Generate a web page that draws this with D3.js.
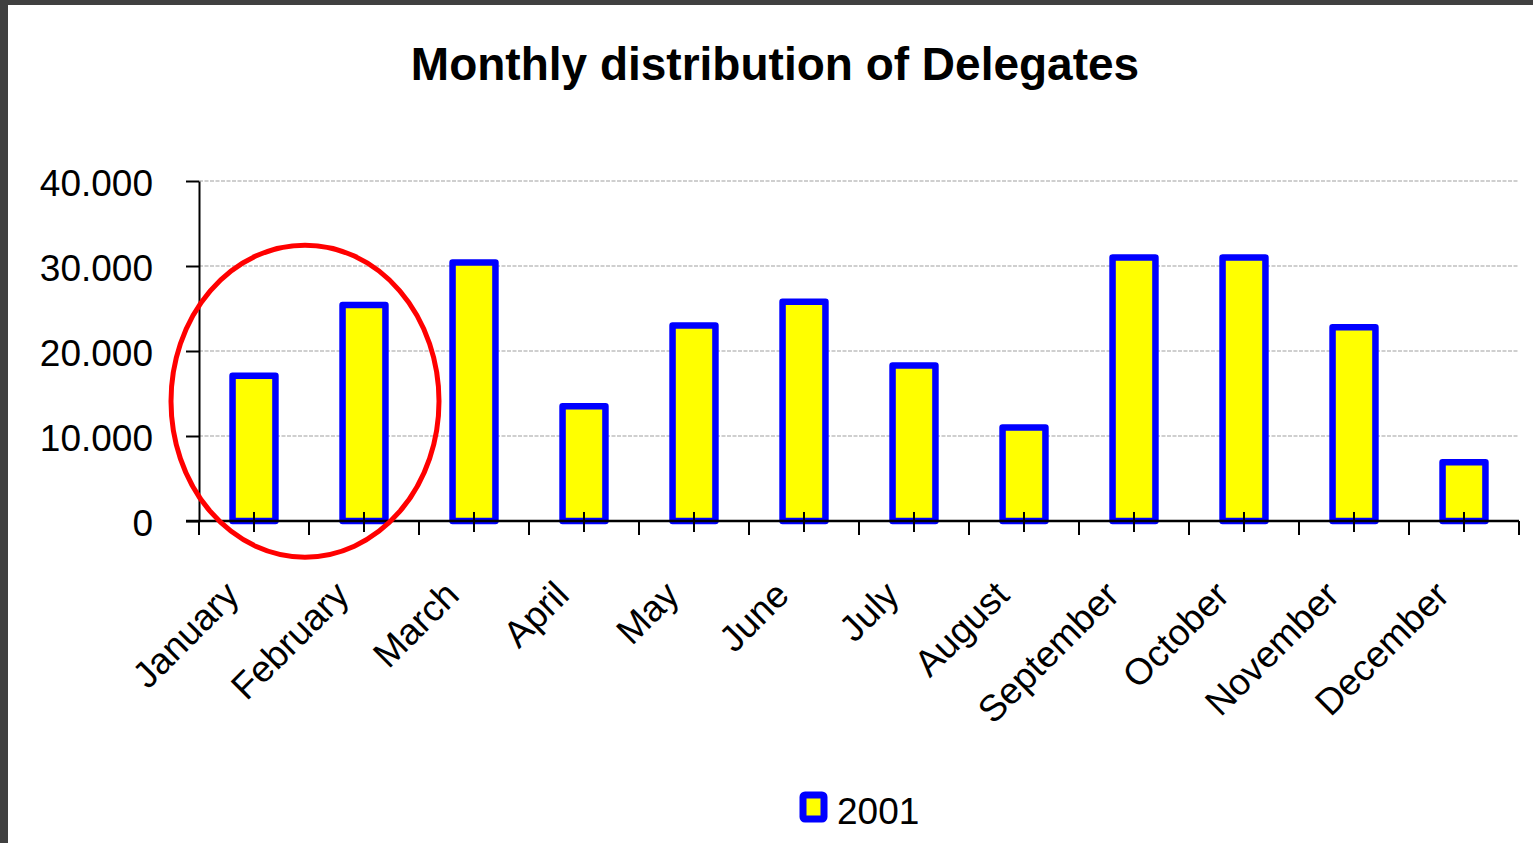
<!DOCTYPE html>
<html>
<head>
<meta charset="utf-8">
<script src="https://cdn.jsdelivr.net/npm/d3@7"></script>
<style>
  body { margin: 0; background: #fff; }
  svg { display: block; font-family: "Liberation Sans", Arial, sans-serif; }
</style>
</head>
<body>
<div id="chart"></div>
<script>
const months = ["January", "February", "March", "April", "May", "June",
    "July", "August", "September", "October", "November", "December"];
const delegates2001 = [17100, 25400, 30400, 13500, 23000, 25800,
    18300, 11000, 31000, 31000, 22800, 6900];
const yTicks = [0, 10000, 20000, 30000, 40000];
const seriesName = "2001";
const highlighted = ["January", "February"]; // ringed in red

const W = 1533, H = 843;
const margin = { top: 181, right: 14, bottom: 322, left: 199 };
const width = W - margin.left - margin.right;
const height = H - margin.top - margin.bottom;

const fmt = d3.formatLocale({ decimal: ",", thousands: ".", grouping: [3], currency: ["", ""] }).format(",");

const root = d3.select("#chart").append("svg")
    .attr("width", W)
    .attr("height", H);

root.append("rect").attr("width", W).attr("height", H).attr("fill", "#fff");
// dark frame on the left and top
root.append("rect").attr("x", 0).attr("y", 0).attr("width", 8).attr("height", H).attr("fill", "#404040");
root.append("rect").attr("x", 0).attr("y", 0).attr("width", W).attr("height", 5).attr("fill", "#404040");

root.append("text")
    .attr("x", 775)
    .attr("y", 80)
    .attr("text-anchor", "middle")
    .style("font-size", "46px")
    .style("font-weight", "bold")
    .text("Monthly distribution of Delegates");

const svg = root.append("g")
    .attr("transform", `translate(${margin.left},${margin.top})`);

const x = d3.scaleBand()
    .domain(months)
    .range([0, width])
    .paddingInner(0.61)
    .paddingOuter(0.305);

const y = d3.scaleLinear()
    .domain([0, 40000])
    .range([height, 0]);

// gridlines
svg.selectAll(".grid")
    .data(yTicks.slice(1))
    .enter()
    .append("line")
    .attr("x1", 0)
    .attr("x2", width)
    .attr("y1", d => y(d))
    .attr("y2", d => y(d))
    .attr("stroke", "#a0a0a0")
    .attr("stroke-width", 1.2)
    .attr("stroke-dasharray", "4,1.5");

// bars
svg.selectAll(".bar")
    .data(delegates2001)
    .enter()
    .append("rect")
    .attr("class", "bar")
    .attr("x", (d, i) => x(months[i]))
    .attr("y", d => y(d))
    .attr("width", x.bandwidth())
    .attr("height", d => y(0) - y(d))
    .attr("fill", "#ffff00")
    .attr("stroke", "#0000ff")
    .attr("stroke-width", 6.5)
    .attr("stroke-linejoin", "round");

// y axis
const yAxis = svg.append("g")
    .call(d3.axisLeft(y).tickValues(yTicks).tickFormat(fmt).tickSize(13).tickSizeOuter(0).tickPadding(33));
yAxis.select(".domain").attr("stroke", "#000").attr("stroke-width", 2);
yAxis.selectAll(".tick line").attr("stroke", "#000").attr("stroke-width", 2);
yAxis.selectAll(".tick text")
    .attr("fill", "#000")
    .attr("dy", "0.38em")
    .style("font-size", "37px")
    .style("font-family", "Liberation Sans, Arial, sans-serif");

// x axis
const xAxis = svg.append("g").attr("transform", `translate(0,${height})`);
xAxis.append("line")
    .attr("x1", -13).attr("x2", width)
    .attr("stroke", "#000").attr("stroke-width", 2.5);
// category boundaries
xAxis.selectAll(".bound")
    .data(d3.range(months.length + 1))
    .enter()
    .append("line")
    .attr("x1", i => i * x.step())
    .attr("x2", i => i * x.step())
    .attr("y1", 0).attr("y2", 14)
    .attr("stroke", "#000").attr("stroke-width", 2);
// centre ticks
xAxis.selectAll(".mid")
    .data(months)
    .enter()
    .append("line")
    .attr("x1", d => x(d) + x.bandwidth() / 2)
    .attr("x2", d => x(d) + x.bandwidth() / 2)
    .attr("y1", -9).attr("y2", 11)
    .attr("stroke", "#000").attr("stroke-width", 2);
xAxis.selectAll(".lbl")
    .data(months)
    .enter()
    .append("text")
    .attr("transform", d => `translate(${x(d) + x.bandwidth() / 2 - 22},${67}) rotate(-45)`)
    .attr("text-anchor", "end")
    .attr("dy", "0.35em")
    .style("font-size", "37px")
    .text(d => d);

// red ring round the highlighted months
const cx0 = (x(highlighted[0]) + x(highlighted[1]) + x.bandwidth()) / 2;
svg.append("ellipse")
    .attr("cx", cx0 - 4)
    .attr("cy", y(14100))
    .attr("rx", 134)
    .attr("ry", 156)
    .attr("fill", "none")
    .attr("stroke", "#ff0000")
    .attr("stroke-width", 5);

// legend
const legend = root.append("g").attr("transform", "translate(803,795)");
legend.append("rect")
    .attr("width", 21).attr("height", 24)
    .attr("fill", "#ffff00")
    .attr("stroke", "#0000ff")
    .attr("stroke-width", 7)
    .attr("rx", 2);
legend.append("text")
    .attr("x", 34)
    .attr("y", 29)
    .style("font-size", "37px")
    .text(seriesName);
</script>
</body>
</html>
